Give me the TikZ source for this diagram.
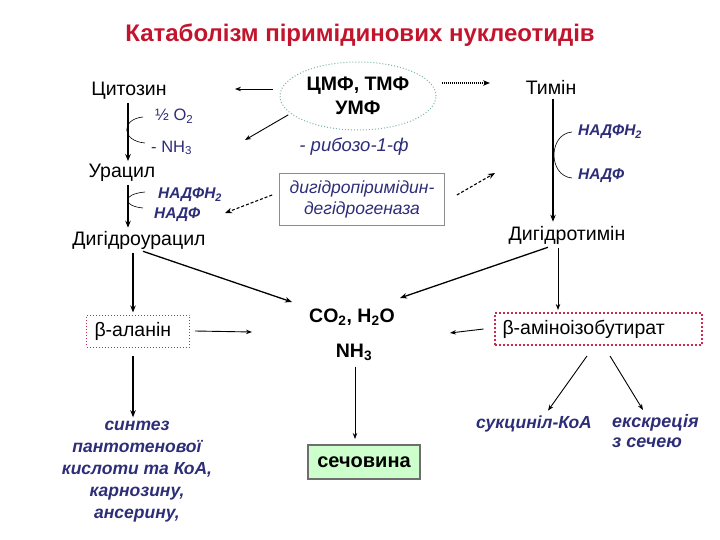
\documentclass[tikz,border=0pt]{standalone}
\usepackage{fontspec}
\setmainfont{Liberation Sans}
\usetikzlibrary{arrows.meta,shapes.geometric}
\definecolor{dblue}{RGB}{45,45,120}
\definecolor{tred}{RGB}{195,20,45}
\definecolor{elline}{RGB}{120,180,170}
\definecolor{boxgray}{RGB}{140,140,140}
\definecolor{bred}{RGB}{205,40,80}
\definecolor{ureafill}{RGB}{204,255,204}
\definecolor{ureaedge}{RGB}{110,110,110}
\begin{document}
\begin{tikzpicture}[x=1pt,y=-1pt,
  txt/.style={inner sep=0pt,font=\fontsize{19.5}{22}\selectfont},
  sub/.style={inner sep=0pt,text=dblue,font=\fontsize{16.5}{19}\selectfont},
  cof/.style={inner sep=0pt,text=dblue,font=\fontsize{15.5}{18}\selectfont\bfseries\itshape},
  prod/.style={inner sep=0pt,text=dblue,align=center,font=\fontsize{17.5}{22}\selectfont\bfseries\itshape},
  betabox/.style={draw=bred,dotted,inner xsep=8pt,minimum height=32pt,align=left,
    font=\fontsize{19.5}{22}\selectfont},
  arr/.style={-{Stealth[length=7pt,width=5.5pt]},line width=1.3pt},
  tarr/.style={-{Stealth[length=6pt,width=4.5pt]},line width=0.9pt},
  dasharr/.style={-{Stealth[length=7pt,width=5.5pt]},line width=1.1pt,dash pattern=on 3pt off 2pt},
  dotarr/.style={-{Stealth[length=7pt,width=5.5pt]},line width=1.1pt,dash pattern=on 1pt off 1pt},
  bracket/.style={line width=0.6pt}
]
\useasboundingbox (0,0) rectangle (720,540);

% title
\node[inner sep=0pt,text=tred,font=\fontsize{24}{28}\selectfont\bfseries] (title) at (360,35) {Катаболізм піримідинових нуклеотидів};

% left branch
\node[txt] (cyt) at (129,91) {Цитозин};
\node[sub,anchor=west] (o2) at (155,116) {½ O\textsubscript{2}};
\node[sub,anchor=west] (nh3a) at (151,148) {- NH\textsubscript{3}};
\node[txt] (ura) at (122,173) {Урацил};
\node[cof,anchor=west] (nadph1) at (158,195) {НАДФН\textsubscript{2}};
\node[cof,anchor=west] (nadp1) at (154,215) {НАДФ};
\node[txt] (dura) at (139,240) {Дигідроурацил};

% centre
\node[ellipse,draw=elline,dotted,line width=1pt,minimum width=156pt,minimum height=68pt,
  align=center,font=\fontsize{19.5}{24}\selectfont\bfseries] (nuc) at (358,96) {ЦМФ, ТМФ\\УМФ};
\node[inner sep=0pt,text=dblue,font=\fontsize{18.5}{21}\selectfont\itshape] (rib) at (354,147) {- рибозо-1-ф};
\node[draw=boxgray,line width=0.8pt,minimum width=165pt,minimum height=52pt,align=center,
  text=dblue,font=\fontsize{17.5}{21}\selectfont\itshape] (enz) at (362,199) {дигідропіримідин-\\дегідрогеназа};

% right branch
\node[txt] (thy) at (551,87) {Тимін};
\node[cof,anchor=west] (nadph2) at (578,132) {НАДФН\textsubscript{2}};
\node[cof,anchor=west] (nadp2) at (578,176) {НАДФ};
\node[txt] (dthy) at (567,235) {Дигідротимін};

% products
\node[inner sep=0pt,font=\fontsize{19.5}{23}\selectfont\bfseries] (co2) at (352,317) {CO\textsubscript{2}, H\textsubscript{2}O};
\node[inner sep=0pt,font=\fontsize{19.5}{23}\selectfont\bfseries] (nh3) at (354,352) {NH\textsubscript{3}};
\node[fill=ureafill,draw=ureaedge,line width=2pt,minimum width=112pt,minimum height=34pt,
  font=\fontsize{20}{23}\selectfont\bfseries] (urea) at (364,462) {сечовина};
\node[betabox,line width=1pt,text width=87pt] (bala) at (138,331) {β-аланін};
\node[betabox,line width=2pt,text width=191pt] (baib) at (598,329) {β-аміноізобутират};
\node[prod] (synth) at (137,472) {синтез\\пантотенової\\кислоти та КоА,\\карнозину,\\ансерину,};
\node[prod] (succ) at (534,424) {сукциніл-КоА};
\node[prod,align=left,anchor=north west,font=\fontsize{18}{20}\selectfont\bfseries\itshape] (excr) at (612,414) {екскреція\\з сечею};

% free arrow ends
\coordinate (toCyt) at (235,89);
\coordinate (toUra) at (245,140);
\coordinate (toNadp) at (225,213);
\coordinate (toThy) at (490,83);
\coordinate (toNadph) at (495,173);
\coordinate (toCoL) at (292,302);
\coordinate (toCoR) at (400,298);
\coordinate (toMidL) at (252,332);
\coordinate (toMidR) at (450,333);

% arrows from nucleotides
\draw[tarr] ([xshift=-7pt,yshift=7pt]nuc.west) -- (toCyt);
\draw[tarr] ([xshift=-4pt]nuc.196) -- (toUra);
\draw[dasharr] ([xshift=-7pt,yshift=4pt]enz.west) -- (toNadp);
\draw[dotarr] ([xshift=5pt,yshift=13pt]nuc.east) -- (toThy);
\draw[dasharr] ([xshift=12pt,yshift=4pt]enz.east) -- (toNadph);

% left vertical pathway
\draw[arr] ([xshift=-1pt,yshift=-3pt]cyt.south) -- ([xshift=6pt,yshift=3pt]ura.north);
\draw[bracket] (143,117) .. controls (121,119) and (121,141) .. (145,143);
\draw[arr] ([xshift=6pt,yshift=-3pt]ura.south) -- ([xshift=-11pt,yshift=3pt]dura.north);
\draw[bracket] (145,192) .. controls (122,194) and (122,206) .. (143,208);

% right vertical pathway
\draw[arr] ([xshift=2pt,yshift=-5pt]thy.south) -- ([xshift=-14pt,yshift=4pt]dthy.north);
\draw[bracket] (572,132) .. controls (548,134) and (548,176) .. (572,178);

% to CO2
\draw[arr] ([xshift=4pt,yshift=-2pt]dura.south) -- (toCoL);
\draw[arr] ([xshift=-19pt,yshift=-3pt]dthy.south) -- (toCoR);
\draw[arr] ([xshift=-6pt,yshift=-4pt]dura.south) -- ([xshift=-5pt,yshift=2pt]bala.north);
\draw[tarr] ([xshift=-9pt,yshift=-4pt]dthy.south) -- ([xshift=-40pt,yshift=2pt]baib.north);
\draw[tarr] ([xshift=5pt]bala.east) -- (toMidL);
\draw[tarr] ([xshift=-10pt]baib.west) -- (toMidR);

% downstream
\draw[arr] ([xshift=-5pt,yshift=-8pt]bala.south) -- ([xshift=-4pt,yshift=4pt]synth.north);
\draw[tarr] ([xshift=1pt,yshift=-6pt]nh3.south) -- ([xshift=-9pt,yshift=5pt]urea.north);
\draw[tarr] ([xshift=-11pt,yshift=-10pt]baib.south) -- ([xshift=14pt,yshift=5pt]succ.north);
\draw[tarr] ([xshift=12pt,yshift=-10pt]baib.south) -- ([xshift=31pt,yshift=4pt]excr.north west);
\end{tikzpicture}
\end{document}
